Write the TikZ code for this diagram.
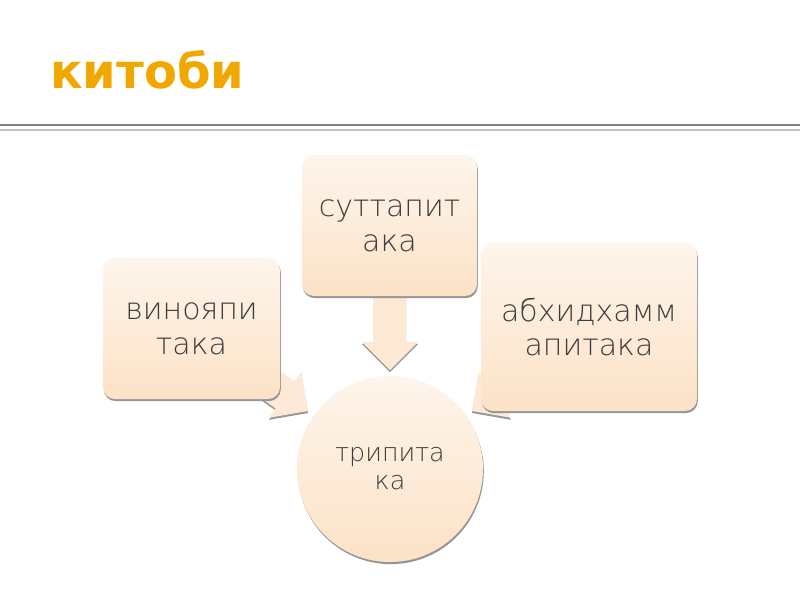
\documentclass[tikz,border=0pt]{standalone}
\usepackage{fontspec}
\setmainfont{DejaVu Sans}
\newfontfamily\thinfont{DejaVu Sans ExtraLight}
\usetikzlibrary{shadows}
\definecolor{peachT}{RGB}{254,245,236}
\definecolor{peachB}{RGB}{252,226,198}
\definecolor{arrowc}{RGB}{253,233,214}
\definecolor{titleor}{RGB}{240,168,0}
\definecolor{txtc}{RGB}{60,60,60}
\definecolor{shadc}{RGB}{150,150,150}
\begin{document}
\begin{tikzpicture}[x=0.75pt,y=-0.75pt,
  boxshape/.style={rounded corners=9pt, top color=peachT, bottom color=peachB,
    draw=none, align=center, text=txtc, inner sep=0pt,
    font=\thinfont\fontsize{22.5}{26}\selectfont,
    drop shadow={shadow xshift=0.6pt, shadow yshift=-1.6pt, fill=shadc, opacity=1}},
  hubshape/.style={circle, top color=peachT, bottom color=peachB, draw=none,
    align=center, text=txtc, inner sep=0pt, minimum size=139.5pt,
    font=\thinfont\fontsize{19}{21}\selectfont,
    drop shadow={shadow xshift=0.6pt, shadow yshift=-1.6pt, fill=shadc, opacity=1}},
  blockarrow/.style={fill=arrowc, draw=none},
  arrowshadow/.style={fill=shadc, draw=none},
  titletext/.style={font=\bfseries\fontsize{36}{40}\selectfont, text=titleor, inner sep=0pt}
]
\fill[white] (0,0) rectangle (800,600);
\path[use as bounding box] (0,0) rectangle (800,600);

% title and rule
\node[titletext, anchor=base west] (title) at (50,88) {китоби};
\draw[line width=1.5pt, color={rgb,255:red,128;green,128;blue,128}] (0,125) -- (800,125);
\draw[line width=1.5pt, color={rgb,255:red,192;green,192;blue,192}] (0,129.5) -- (800,129.5);

% block arrows (behind the shapes)
\begin{scope}[shift={(0,2)}]
  \fill[arrowshadow] (373,280) -- (406,280) -- (406,342) -- (418,342) -- (390,370) -- (362,342) -- (373,342) -- cycle;
  \fill[arrowshadow] (212.7,324) -- (294.6,381.4) -- (301.2,372) -- (308,411) -- (269,417.8) -- (275.6,408.4) -- (193.7,351) -- cycle;
  \fill[arrowshadow] (567.3,324) -- (485.4,381.4) -- (478.8,372) -- (472,411) -- (511,417.8) -- (504.4,408.4) -- (586.3,351) -- cycle;
\end{scope}
\fill[blockarrow] (373,280) -- (406,280) -- (406,342) -- (418,342) -- (390,370) -- (362,342) -- (373,342) -- cycle;
\fill[blockarrow] (212.7,324) -- (294.6,381.4) -- (301.2,372) -- (308,411) -- (269,417.8) -- (275.6,408.4) -- (193.7,351) -- cycle;
\fill[blockarrow] (567.3,324) -- (485.4,381.4) -- (478.8,372) -- (472,411) -- (511,417.8) -- (504.4,408.4) -- (586.3,351) -- cycle;

% shapes
\node[boxshape, minimum width=132.75pt, minimum height=105.75pt] (vinaya) at (191.5,328.5) {винояпи\\така};
\node[boxshape, minimum width=131.25pt, minimum height=105.75pt] (sutta) at (389.5,225.5) {суттапит\\ака};
\node[boxshape, minimum width=162pt, minimum height=126pt] (abhi) at (589,327) {абхидхамм\\апитака};
\node[hubshape] (tri) at (390,469) {трипита\\ка};
\end{tikzpicture}
\end{document}
